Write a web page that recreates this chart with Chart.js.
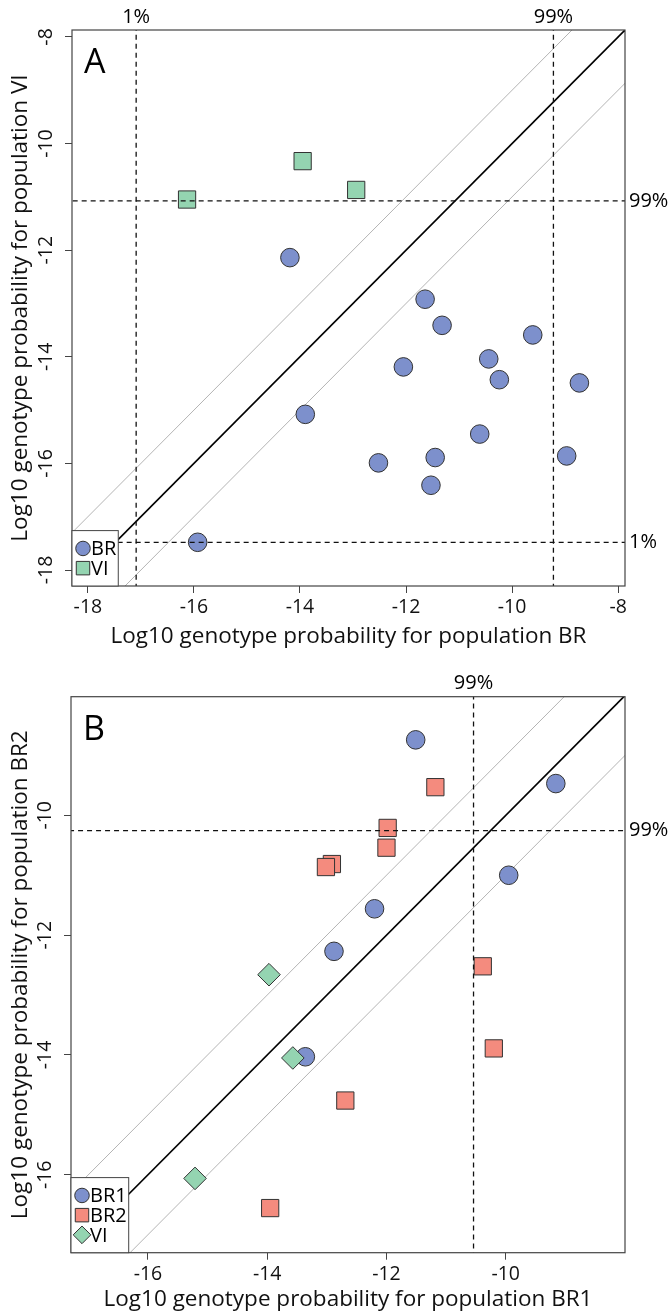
<!DOCTYPE html>
<html>
<head>
<meta charset="utf-8">
<script src="https://cdn.jsdelivr.net/npm/chart.js@4/dist/chart.umd.min.js"></script>
<style>
  html, body { margin: 0; padding: 0; background: #fff; }
  canvas { position: absolute; left: 0; }
  #chartA { top: 0; }
  #chartB { top: 650px; }
</style>
</head>
<body>
<canvas id="chartA" width="672" height="650"></canvas>
<canvas id="chartB" width="672" height="664"></canvas>
<script>
// ---- Panel A: BR vs VI ----
const aBrX = [-14.19, -11.64, -11.32, -9.61, -12.05, -10.44, -10.24, -8.73, -13.90, -10.61, -12.52, -11.45, -11.53, -8.97, -15.93];
const aBrY = [-12.14, -12.92, -13.41, -13.59, -14.19, -14.04, -14.43, -14.49, -15.08, -15.45, -15.99, -15.89, -16.41, -15.86, -17.48];
const aViX = [-16.13, -13.95, -12.94];
const aViY = [-11.05, -10.33, -10.87];
const aCutX = [-17.09, -9.22];      // 1%, 99% for BR
const aCutY = [-17.48, -11.075];    // 1%, 99% for VI
const aCutLabels = ['1%', '99%'];
const aTicks = [-18, -16, -14, -12, -10, -8];

// ---- Panel B: BR1 vs BR2 ----
const bBr1X = [-11.51, -9.16, -9.95, -12.20, -12.88, -13.36];
const bBr1Y = [-8.74, -9.47, -11.00, -11.56, -12.27, -14.03];
const bBr2X = [-11.18, -11.98, -12.00, -12.915, -13.015, -10.385, -10.20, -12.69, -13.95];
const bBr2Y = [-9.53, -10.21, -10.54, -10.813, -10.863, -12.52, -13.89, -14.76, -16.555];
const bViX = [-13.97, -13.57, -15.21];
const bViY = [-12.66, -14.05, -16.06];
const bCutX = [-10.54];
const bCutY = [-10.255];
const bCutLabels = ['99%'];
const bTicks = [-16, -14, -12, -10];

const FONT = "'Open Sans', sans-serif";
const BLUE = '#7d90cc';
const GREEN = '#94d4b1';
const SALMON = '#f48b7e';

const zip = (xs, ys) => xs.map((x, i) => ({ x: x, y: ys[i] }));

function pointSet(label, xs, ys, style, color, radius, order) {
    return {
        label: label,
        data: zip(xs, ys),
        pointStyle: style,
        pointRadius: radius,
        pointHoverRadius: radius,
        backgroundColor: color,
        borderColor: '#333',
        borderWidth: 1,
        showLine: false,
        order: order,
        legendItem: true
    };
}

function lineSet(points, color, width, dash, order) {
    return {
        type: 'line',
        data: points,
        borderColor: color,
        borderWidth: width,
        borderDash: dash || [],
        pointRadius: 0,
        showLine: true,
        fill: false,
        order: order
    };
}

// diagonal y = x and the +/-1 bands, cut lines
function refLines(cutX, cutY) {
    const sets = [
        lineSet([{ x: -30, y: -30 }, { x: 0, y: 0 }], '#000', 1.6, null, 6),
        lineSet([{ x: -30, y: -29 }, { x: 0, y: 1 }], '#b4b4b4', 1, null, 7),
        lineSet([{ x: -30, y: -31 }, { x: 0, y: -1 }], '#b4b4b4', 1, null, 7)
    ];
    cutX.forEach(c => sets.push(lineSet([{ x: c, y: -30 }, { x: c, y: 0 }], '#111', 1.3, [5, 4], 0)));
    cutY.forEach(c => sets.push(lineSet([{ x: -30, y: c }, { x: 0, y: c }], '#111', 1.3, [5, 4], 0)));
    return sets;
}

const decorPlugin = {
    id: 'decor',
    afterDraw(chart, args, o) {
        const { ctx, chartArea: ca, scales } = chart;
        ctx.save();
        // box
        ctx.strokeStyle = '#444';
        ctx.lineWidth = 1.2;
        ctx.strokeRect(ca.left, ca.top, ca.right - ca.left, ca.bottom - ca.top);

        // panel letter
        ctx.fillStyle = '#000';
        ctx.font = '34px ' + FONT;
        ctx.textBaseline = 'alphabetic';
        ctx.textAlign = 'left';
        ctx.fillText(o.letter, ca.left + 12, ca.top + o.letterBase);

        // cut labels
        ctx.font = '20px ' + FONT;
        ctx.textBaseline = 'middle';
        ctx.textAlign = 'center';
        o.cutX.forEach((c, i) => {
            ctx.fillText(o.cutXLabels[i], scales.x.getPixelForValue(c), ca.top - 13);
        });
        ctx.textAlign = 'left';
        o.cutY.forEach((c, i) => {
            ctx.fillText(o.cutYLabels[i], ca.right + 4, scales.y.getPixelForValue(c));
        });

        // legend box in the lower left corner
        const items = chart.data.datasets.filter(d => d.legendItem);
        const rowH = 19.7;
        const h = items.length * rowH + 16;
        ctx.font = '20px ' + FONT;
        const w = Math.max(...items.map(d => ctx.measureText(d.label).width)) + 21;
        ctx.fillStyle = '#fff';
        ctx.fillRect(ca.left, ca.bottom - h, w, h);
        ctx.strokeStyle = '#444';
        ctx.lineWidth = 1;
        ctx.strokeRect(ca.left, ca.bottom - h, w, h);
        items.forEach((d, i) => {
            const cy = ca.bottom - h + 8 + rowH * (i + 0.5);
            ctx.fillStyle = d.backgroundColor;
            ctx.strokeStyle = '#333';
            ctx.lineWidth = 1;
            Chart.helpers.drawPoint(ctx, { pointStyle: d.pointStyle, radius: d.pointRadius * 0.78, rotation: 0, borderWidth: 1 }, ca.left + 11, cy);
            ctx.fillStyle = '#000';
            ctx.textAlign = 'left';
            ctx.textBaseline = 'middle';
            ctx.fillText(d.label, ca.left + 19, cy + 1);
        });
        ctx.restore();
    }
};

function axis(min, max, ticks, title, isY, size, titlePad) {
    return {
        type: 'linear',
        min: min,
        max: max,
        afterBuildTicks: s => { s.ticks = ticks.map(v => ({ value: v })); },
        afterFit: s => { if (isY) s.width = size; else s.height = size; },
        border: { display: false },
        grid: { display: true, drawOnChartArea: false, drawTicks: true, tickLength: 7, color: '#444' },
        ticks: isY
            ? { minRotation: 90, maxRotation: 90, crossAlign: 'center', padding: 4, color: '#111', font: { family: FONT, size: 19.5 } }
            : { maxRotation: 0, padding: 3, color: '#111', font: { family: FONT, size: 19.5 } },
        title: { display: true, text: title, color: '#111', font: { family: FONT, size: 22.5 }, padding: titlePad }
    };
}

function makePanel(id, datasets, scales, layout, decor) {
    return new Chart(document.getElementById(id), {
        type: 'scatter',
        data: { datasets: datasets },
        options: {
            responsive: false,
            animation: false,
            layout: { padding: layout },
            plugins: { legend: { display: false }, tooltip: { enabled: false }, decor: decor },
            scales: scales
        },
        plugins: [decorPlugin]
    });
}

makePanel('chartA',
    [
        pointSet('BR', aBrX, aBrY, 'circle', BLUE, 9.3, 2),
        pointSet('VI', aViX, aViY, 'rect', GREEN, 12.2, 1)
    ].concat(refLines(aCutX, aCutY)),
    {
        x: axis(-18.3, -7.87, aTicks, 'Log10 genotype probability for population BR', false, 64, { top: 0, bottom: 0 }),
        y: axis(-18.3, -7.87, aTicks, 'Log10 genotype probability for population VI', true, 72, { top: 7, bottom: 0 })
    },
    { top: 30, right: 47, left: 0, bottom: 0 },
    { letter: 'A', letterBase: 43, cutX: aCutX, cutY: aCutY, cutXLabels: aCutLabels, cutYLabels: ['1%', '99%'] }
);

makePanel('chartB',
    [
        pointSet('BR1', bBr1X, bBr1Y, 'circle', BLUE, 9.3, 3),
        pointSet('BR2', bBr2X, bBr2Y, 'rect', SALMON, 12.2, 2),
        pointSet('VI', bViX, bViY, 'rectRot', GREEN, 11.3, 1)
    ].concat(refLines(bCutX, bCutY)),
    {
        x: axis(-17.29, -8.0, bTicks, 'Log10 genotype probability for population BR1', false, 61.3, { top: 0, bottom: 1 }),
        y: axis(-17.3, -8.02, bTicks, 'Log10 genotype probability for population BR2', true, 71, { top: 7, bottom: 0 })
    },
    { top: 46.7, right: 47, left: 0, bottom: 0 },
    { letter: 'B', letterBase: 43, cutX: bCutX, cutY: bCutY, cutXLabels: bCutLabels, cutYLabels: bCutLabels }
);
</script>
</body>
</html>
